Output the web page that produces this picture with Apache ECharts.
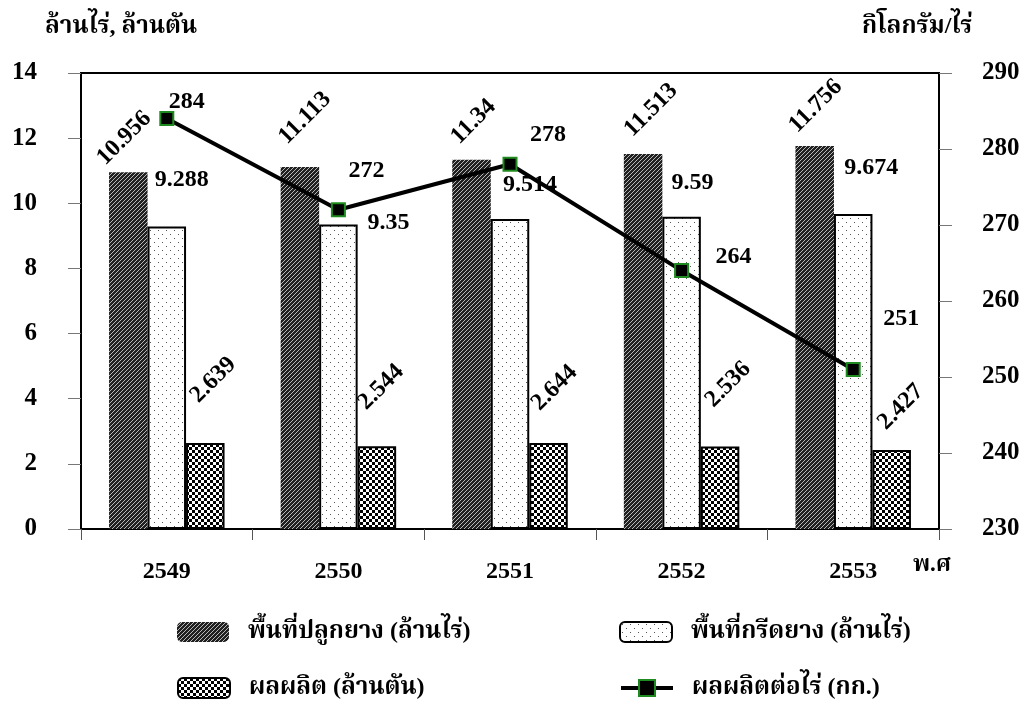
<!DOCTYPE html>
<html>
<head>
<meta charset="utf-8">
<script src="https://cdn.jsdelivr.net/npm/echarts@6/dist/echarts.min.js"></script>
<style>
  html, body { margin: 0; padding: 0; background: #fff; }
  #chart { width: 1027px; height: 707px; }
</style>
</head>
<body>
<div id="chart"></div>
<script>
// Rubber area and output by Buddhist-era year
const years = ['2549', '2550', '2551', '2552', '2553'];
const plantedArea = [10.956, 11.113, 11.34, 11.513, 11.756];   // million rai
const tappedArea = [9.288, 9.35, 9.514, 9.59, 9.674];          // million rai
const production = [2.639, 2.544, 2.644, 2.536, 2.427];        // million tonnes
const yieldPerRai = [284, 272, 278, 264, 251];                 // kg per rai

const seriesNames = [
  'พื้นที่ปลูกยาง (ล้านไร่)',
  'พื้นที่กรีดยาง (ล้านไร่)',
  'ผลผลิต (ล้านตัน)',
  'ผลผลิตต่อไร่ (กก.)'
];

// Hand-placed label nudges [dx, dy] in pixels
const plantedLabelShift = [[-4, -34], [5, -49], [2, -38], [8, -44], [1, -40]];
const tappedLabelShift = [[15, -47], [50, -2], [20, -34], [11, -34], [18, -46]];
const productionLabelShift = [[8, -63], [4, -59], [6, -55], [8, -62], [9, -43]];
const yieldLabelShift = [[20, -17], [28, -39], [38, -29], [52, -14], [48, -51]];

const FONT = "'Liberation Serif', 'Times New Roman', 'Noto Serif Thai', 'Noto Sans Thai', serif";
const BAR_W = 38.5;

function tile(w, h, draw) {
  const c = document.createElement('canvas');
  c.width = w; c.height = h;
  draw(c.getContext('2d'));
  return c;
}
// Dark diagonal hatching
const hatchTile = tile(4, 4, (g) => {
  g.fillStyle = '#202020'; g.fillRect(0, 0, 4, 4);
  g.fillStyle = '#b8b8b8';
  for (let y = 0; y < 4; y++) for (let x = 0; x < 4; x++) if ((x + y) % 4 === 0) g.fillRect(x, y, 1, 1);
});
// Sparse dot screen
const dotTile = tile(8, 8, (g) => {
  g.fillStyle = '#fff'; g.fillRect(0, 0, 8, 8);
  g.fillStyle = '#555';
  g.fillRect(2, 2, 1, 1); g.fillRect(6, 6, 1, 1);
});
// Small checkerboard
const checkTile = tile(6, 6, (g) => {
  g.fillStyle = '#fff'; g.fillRect(0, 0, 6, 6);
  g.fillStyle = '#000';
  g.fillRect(0, 0, 3, 3); g.fillRect(3, 3, 3, 3);
});

const pat = (c) => ({ image: c, repeat: 'repeat' });

const labelBase = { show: true, color: '#000', fontFamily: FONT, fontWeight: 'bold', fontSize: 24, align: 'center', verticalAlign: 'middle' };

function rotatedBarData(values, shifts) {
  return values.map((v, i) => ({
    value: v,
    label: Object.assign({}, labelBase, { rotate: 45, position: [BAR_W / 2 + shifts[i][0], shifts[i][1]] })
  }));
}
function flatData(values, shifts, pos) {
  return values.map((v, i) => ({
    value: v,
    label: Object.assign({}, labelBase, { position: pos, offset: shifts[i] })
  }));
}

// One legend entry per block so the 2 x 2 arrangement stays fixed
function legendItem(name, left, top, extra) {
  return Object.assign({
    data: [name], left: left, top: top, padding: 0,
    itemWidth: 52, itemHeight: 20,
    textStyle: { fontFamily: FONT, fontWeight: 'bold', fontSize: 24, lineHeight: 24, color: '#000', padding: [0, 0, 0, 14] }
  }, extra || {});
}

const chart = echarts.init(document.getElementById('chart'), null, { renderer: 'canvas' });

const tickFont = { color: '#000', fontFamily: FONT, fontWeight: 'bold', fontSize: 25 };

const option = {
  backgroundColor: '#fff',
  animation: false,
  textStyle: { fontFamily: FONT },
  grid: { left: 81, right: 88, top: 73, bottom: 178, show: true, borderColor: '#000', borderWidth: 2, outerBoundsMode: 'none' },
  legend: [
    legendItem(seriesNames[0], 177, 620),
    legendItem(seriesNames[2], 177, 676),
    legendItem(seriesNames[1], 619, 620),
    legendItem(seriesNames[3], 619, 676, { lineStyle: { width: 4, color: '#000' } })
  ],
  xAxis: {
    type: 'category',
    data: years,
    axisLine: { lineStyle: { color: '#000', width: 2 } },
    axisTick: { show: true, length: 11, lineStyle: { color: '#555' } },
    axisLabel: Object.assign({ margin: 31 }, tickFont, { fontSize: 24 }),
    splitLine: { show: false }
  },
  yAxis: [
    {
      type: 'value', min: 0, max: 14, interval: 2,
      axisLine: { show: true, lineStyle: { color: '#000', width: 2 } },
      axisTick: { show: true, length: 13, lineStyle: { color: '#777' } },
      axisLabel: Object.assign({ margin: 44 }, tickFont),
      splitLine: { show: false }
    },
    {
      type: 'value', min: 230, max: 290, interval: 10, position: 'right',
      axisLine: { show: true, lineStyle: { color: '#000', width: 2 } },
      axisTick: { show: true, length: 13, lineStyle: { color: '#777' } },
      axisLabel: Object.assign({ margin: 43 }, tickFont),
      splitLine: { show: false }
    }
  ],
  series: [
    {
      name: seriesNames[0], type: 'bar', barWidth: BAR_W, barGap: '0%',
      itemStyle: { color: pat(hatchTile) },
      data: rotatedBarData(plantedArea, plantedLabelShift)
    },
    {
      name: seriesNames[1], type: 'bar', barWidth: BAR_W, barGap: '0%',
      itemStyle: { color: pat(dotTile), borderColor: '#000', borderWidth: 2 },
      data: flatData(tappedArea, tappedLabelShift, ['50%', 0])
    },
    {
      name: seriesNames[2], type: 'bar', barWidth: BAR_W, barGap: '0%',
      itemStyle: { color: pat(checkTile), borderColor: '#000', borderWidth: 2 },
      data: rotatedBarData(production, productionLabelShift)
    },
    {
      name: seriesNames[3], type: 'line', yAxisIndex: 1,
      symbol: 'rect', symbolSize: 13,
      lineStyle: { color: '#000', width: 4 },
      itemStyle: { color: '#000', borderColor: '#1f8a1f', borderWidth: 2 },
      z: 5,
      data: flatData(yieldPerRai, yieldLabelShift, ['50%', '50%'])
    }
  ],
  graphic: [
    { type: 'text', left: 45, top: 15, style: { text: 'ล้านไร่, ล้านตัน', font: "bold 24px " + FONT, fill: '#000' } },
    { type: 'text', left: 862, top: 15, style: { text: 'กิโลกรัม/ไร่', font: "bold 24px " + FONT, fill: '#000' } },
    { type: 'text', left: 913, top: 554, style: { text: 'พ.ศ', font: "bold 23px " + FONT, fill: '#000' } }
  ]
};

chart.setOption(option);
</script>
</body>
</html>
